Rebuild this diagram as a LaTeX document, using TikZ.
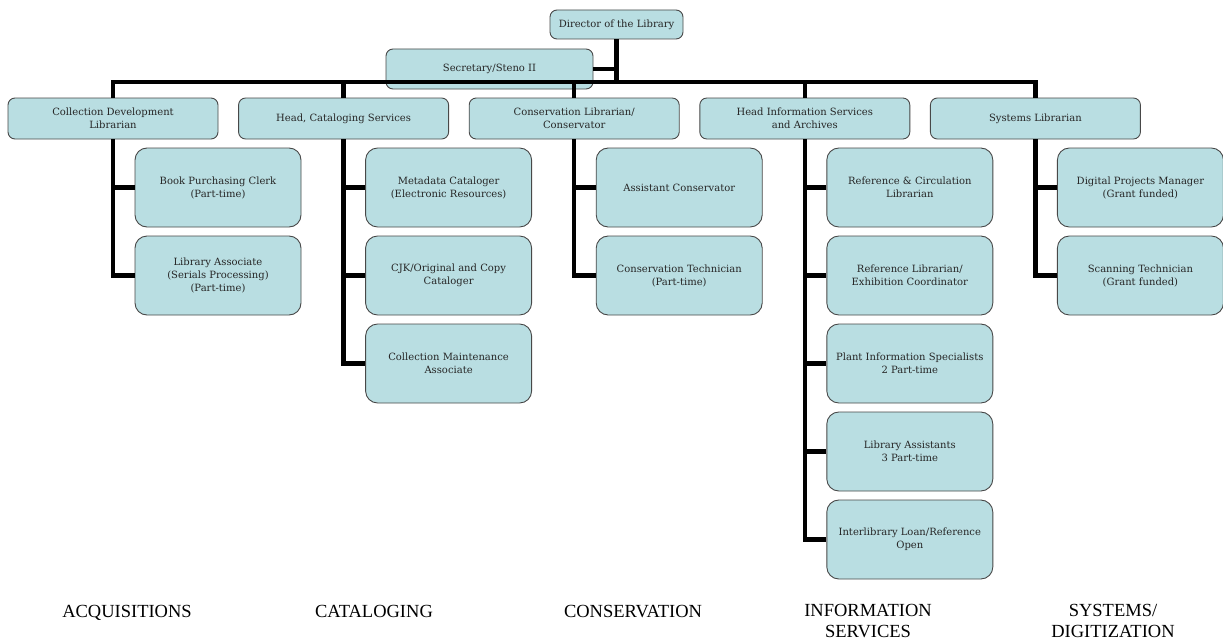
\documentclass[tikz,border=0pt]{standalone}
\usepackage{fontspec}
\usetikzlibrary{calc}
\newfontfamily\boxserif{DejaVu Serif}
\newfontfamily\deptserif{Liberation Serif}
\definecolor{boxblue}{RGB}{185,222,226}
\definecolor{boxline}{RGB}{72,72,72}

\begin{document}
\begin{tikzpicture}[x=1pt,y=-1pt,
  head/.style={draw=boxline, fill=boxblue, line width=0.9pt, rounded corners=7pt,
    minimum width=210pt, minimum height=41pt, inner sep=2pt, align=center,
    text=black!85, font=\boxserif\fontsize{10}{13}\selectfont},
  staff/.style={head, rounded corners=12pt, minimum width=166pt, minimum height=79pt},
  conn/.style={line width=4.5pt},
  dept/.style={anchor=north, inner sep=0pt, align=center,
    font=\deptserif\fontsize{18.5}{21}\selectfont}]
  \useasboundingbox (0,0) rectangle (1223,642);

  % top of the chart
  \node[head, minimum width=133pt, minimum height=29pt] (dir) at (616.5,24.5) {Director of the Library};
  \node[head, minimum width=207pt, minimum height=40pt] (sec) at (489.5,69) {Secretary/Steno II};

  % heads of the five units
  \node[head] (acq) at (113,118.5) {Collection Development\\Librarian};
  \node[head, right of=acq, node distance=230.6pt] (cat) {Head, Cataloging Services};
  \node[head, right of=cat, node distance=230.6pt] (cons) {Conservation Librarian/\\Conservator};
  \node[head, right of=cons, node distance=230.6pt] (info) {Head Information Services\\and Archives};
  \node[head, right of=info, node distance=230.6pt] (sys) {Systems Librarian};

  % staff
  \node[staff] (acq1) at ($(acq)+(105,69)$) {Book Purchasing Clerk\\(Part-time)};
  \node[staff, below of=acq1, node distance=88pt] (acq2) {Library Associate\\(Serials Processing)\\(Part-time)};

  \node[staff] (cat1) at ($(cat)+(105,69)$) {Metadata Cataloger\\(Electronic Resources)};
  \node[staff, below of=cat1, node distance=88pt] (cat2) {CJK/Original and Copy\\Cataloger};
  \node[staff, below of=cat2, node distance=88pt] (cat3) {Collection Maintenance\\Associate};

  \node[staff] (cons1) at ($(cons)+(105,69)$) {Assistant Conservator};
  \node[staff, below of=cons1, node distance=88pt] (cons2) {Conservation Technician\\(Part-time)};

  \node[staff] (info1) at ($(info)+(105,69)$) {Reference \& Circulation\\Librarian};
  \node[staff, below of=info1, node distance=88pt] (info2) {Reference Librarian/\\Exhibition Coordinator};
  \node[staff, below of=info2, node distance=88pt] (info3) {Plant Information Specialists\\2 Part-time};
  \node[staff, below of=info3, node distance=88pt] (info4) {Library Assistants\\3 Part-time};
  \node[staff, below of=info4, node distance=88pt] (info5) {Interlibrary Loan/Reference\\Open};

  \node[staff] (sys1) at ($(sys)+(105,69)$) {Digital Projects Manager\\(Grant funded)};
  \node[staff, below of=sys1, node distance=88pt] (sys2) {Scanning Technician\\(Grant funded)};

  % connectors
  \coordinate (bus) at (0,82);
  \draw[conn] (acq.north) -- (acq.north |- bus) -- (sys.north |- bus) -- (sys.north);
  \foreach \h in {cat,cons,info}
    \draw[conn] (\h.north) -- (\h.north |- bus);
  \draw[conn] (dir.south) -- (dir.south |- bus);
  \draw[conn] (sec.east) -- (sec.east -| dir.south);

  \foreach \s in {acq1,acq2}
    \draw[conn] (acq.south) |- (\s.west);
  \foreach \s in {cat1,cat2,cat3}
    \draw[conn] (cat.south) |- (\s.west);
  \foreach \s in {cons1,cons2}
    \draw[conn] (cons.south) |- (\s.west);
  \foreach \s in {info1,info2,info3,info4,info5}
    \draw[conn] (info.south) |- (\s.west);
  \foreach \s in {sys1,sys2}
    \draw[conn] (sys.south) |- (\s.west);

  % unit names
  \node[dept] (acqlab) at (127,605) {ACQUISITIONS};
  \node[dept] (catlab) at (374,605) {CATALOGING};
  \node[dept] (conslab) at (633,605) {CONSERVATION};
  \node[dept] (infolab) at (868,604) {INFORMATION\\SERVICES};
  \node[dept] (syslab) at (1113,604) {SYSTEMS/\\DIGITIZATION};
\end{tikzpicture}
\end{document}
